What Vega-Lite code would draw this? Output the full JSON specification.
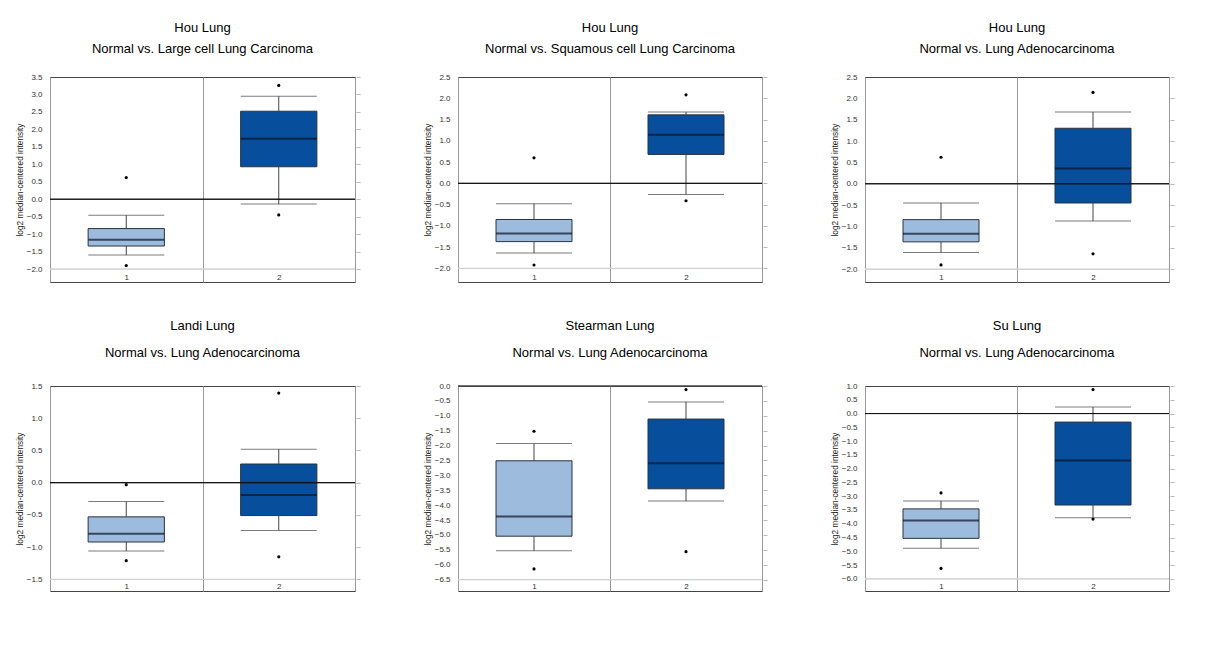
{
"$schema":"https://vega.github.io/schema/vega-lite/v6.json",
"padding":{"left":14,"top":21,"right":0,"bottom":0},
"config":{"font":"Liberation Sans","view":{"stroke":"#444"},
 "title":{"fontSize":13,"fontWeight":"normal","color":"#000","anchor":"middle","baseline":"bottom"},
 "axis":{"domain":false,"grid":false,"labelFontSize":8,"labelColor":"#333","titleFontWeight":"normal","titleFontSize":8.3,"titleColor":"#222","ticks":false}},
"datasets":{
 "b1":[{"g":"1","lo":-1.60,"q1":-1.34,"med":-1.16,"q3":-0.84,"hi":-0.46},{"g":"2","lo":-0.14,"q1":0.93,"med":1.73,"q3":2.52,"hi":2.95}],
 "o1":[{"g":"1","v":0.62},{"g":"1","v":-1.90},{"g":"2","v":3.26},{"g":"2","v":-0.45}],
 "b2":[{"g":"1","lo":-1.64,"q1":-1.37,"med":-1.18,"q3":-0.85,"hi":-0.48},{"g":"2","lo":-0.26,"q1":0.68,"med":1.14,"q3":1.61,"hi":1.68}],
 "o2":[{"g":"1","v":0.60},{"g":"1","v":-1.92},{"g":"2","v":2.08},{"g":"2","v":-0.41}],
 "b3":[{"g":"1","lo":-1.61,"q1":-1.36,"med":-1.17,"q3":-0.84,"hi":-0.45},{"g":"2","lo":-0.87,"q1":-0.45,"med":0.36,"q3":1.30,"hi":1.68}],
 "o3":[{"g":"1","v":0.62},{"g":"1","v":-1.90},{"g":"2","v":2.14},{"g":"2","v":-1.64}],
 "b4":[{"g":"1","lo":-1.06,"q1":-0.92,"med":-0.79,"q3":-0.53,"hi":-0.29},{"g":"2","lo":-0.74,"q1":-0.51,"med":-0.19,"q3":0.29,"hi":0.52}],
 "o4":[{"g":"1","v":-0.03},{"g":"1","v":-1.21},{"g":"2","v":1.39},{"g":"2","v":-1.15}],
 "b5":[{"g":"1","lo":-5.53,"q1":-5.04,"med":-4.38,"q3":-2.51,"hi":-1.93},{"g":"2","lo":-3.86,"q1":-3.45,"med":-2.59,"q3":-1.11,"hi":-0.54}],
 "o5":[{"g":"1","v":-1.52},{"g":"1","v":-6.14},{"g":"2","v":-0.12},{"g":"2","v":-5.56}],
 "b6":[{"g":"1","lo":-4.89,"q1":-4.53,"med":-3.88,"q3":-3.46,"hi":-3.17},{"g":"2","lo":-3.78,"q1":-3.32,"med":-1.70,"q3":-0.31,"hi":0.24}],
 "o6":[{"g":"1","v":-2.88},{"g":"1","v":-5.62},{"g":"2","v":0.87},{"g":"2","v":-3.83}]
},
"bounds":"flush","spacing":{"column":103,"row":104},"columns":3,
"concat":[
  {"width":305,"height":205,"title":{"text":["Hou Lung","Normal vs. Large cell Lung Carcinoma"],"lineHeight":21,"offset":17},
   "resolve":{"axis":{"y":"independent"}},
   "layer":[
    {"data":{"name":"b1"},"mark":{"type":"rule","color":"#d0d0d0"},"encoding":{"y":{"datum":-2,"type":"quantitative","axis":null}}},
    {"data":{"name":"b1"},"mark":{"type":"bar","stroke":"#2a3340","strokeWidth":1,"width":{"band":0.5}},"encoding":{
      "x":{"field":"g","type":"nominal","scale":{"domain":["1","2"],"paddingInner":0,"paddingOuter":0},"axis":{"title":null,"labelAngle":0,"labelPadding":-9,"tickSize":0,"grid":true,"tickBand":"extent","gridColor":"#999"}},
      "y":{"field":"q1","type":"quantitative","scale":{"domain":[-2.37,3.5],"nice":false,"zero":false},"axis":{"orient":"left","values":[-2,-1.5,-1,-0.5,0,0.5,1,1.5,2,2.5,3,3.5],"format":".1f","labelPadding":8,"title":"log2 median-centered intensity","titlePadding":2}},
      "y2":{"field":"q3"},
      "color":{"field":"g","type":"nominal","scale":{"domain":["1","2"],"range":["#9dbbdc","#074f9c"]},"legend":null}}},
    {"data":{"name":"b1"},"mark":{"type":"rule","color":"#444"},"encoding":{"x":{"field":"g","type":"nominal"},"y":{"field":"q3","type":"quantitative","axis":null},"y2":{"field":"hi"}}},
    {"data":{"name":"b1"},"mark":{"type":"rule","color":"#444"},"encoding":{"x":{"field":"g","type":"nominal"},"y":{"field":"lo","type":"quantitative","axis":null},"y2":{"field":"q1"}}},
    {"data":{"name":"b1"},"mark":{"type":"tick","color":"#444","size":76,"thickness":1},"encoding":{"x":{"field":"g","type":"nominal"},"y":{"field":"hi","type":"quantitative","axis":null}}},
    {"data":{"name":"b1"},"mark":{"type":"tick","color":"#444","size":76,"thickness":1},"encoding":{"x":{"field":"g","type":"nominal"},"y":{"field":"lo","type":"quantitative","axis":null}}},
    {"data":{"name":"b1"},"mark":{"type":"rule","color":"#111"},"encoding":{"y":{"datum":0,"type":"quantitative","axis":{"orient":"right","labels":false,"ticks":true,"tickColor":"#bbb","tickSize":4,"offset":1,"title":null,"values":[-2,-1.5,-1,-0.5,0,0.5,1,1.5,2,2.5,3,3.5]}}}},
    {"data":{"name":"b1"},"mark":{"type":"tick","color":"#0a1428","size":76,"thickness":2},"encoding":{"x":{"field":"g","type":"nominal"},"y":{"field":"med","type":"quantitative","axis":null}}},
    {"data":{"name":"o1"},"mark":{"type":"point","filled":true,"color":"#000","size":10,"opacity":1},"encoding":{"x":{"field":"g","type":"nominal"},"y":{"field":"v","type":"quantitative","axis":null}}}
   ]},
  {"width":304,"height":205,"title":{"text":["Hou Lung","Normal vs. Squamous cell Lung Carcinoma"],"lineHeight":21,"offset":17},
   "resolve":{"axis":{"y":"independent"}},
   "layer":[
    {"data":{"name":"b2"},"mark":{"type":"rule","color":"#d0d0d0"},"encoding":{"y":{"datum":-2,"type":"quantitative","axis":null}}},
    {"data":{"name":"b2"},"mark":{"type":"bar","stroke":"#2a3340","strokeWidth":1,"width":{"band":0.5}},"encoding":{
      "x":{"field":"g","type":"nominal","scale":{"domain":["1","2"],"paddingInner":0,"paddingOuter":0},"axis":{"title":null,"labelAngle":0,"labelPadding":-9,"tickSize":0,"grid":true,"tickBand":"extent","gridColor":"#999"}},
      "y":{"field":"q1","type":"quantitative","scale":{"domain":[-2.32,2.5],"nice":false,"zero":false},"axis":{"orient":"left","values":[-2,-1.5,-1,-0.5,0,0.5,1,1.5,2,2.5],"format":".1f","labelPadding":8,"title":"log2 median-centered intensity","titlePadding":2}},
      "y2":{"field":"q3"},
      "color":{"field":"g","type":"nominal","scale":{"domain":["1","2"],"range":["#9dbbdc","#074f9c"]},"legend":null}}},
    {"data":{"name":"b2"},"mark":{"type":"rule","color":"#444"},"encoding":{"x":{"field":"g","type":"nominal"},"y":{"field":"q3","type":"quantitative","axis":null},"y2":{"field":"hi"}}},
    {"data":{"name":"b2"},"mark":{"type":"rule","color":"#444"},"encoding":{"x":{"field":"g","type":"nominal"},"y":{"field":"lo","type":"quantitative","axis":null},"y2":{"field":"q1"}}},
    {"data":{"name":"b2"},"mark":{"type":"tick","color":"#444","size":76,"thickness":1},"encoding":{"x":{"field":"g","type":"nominal"},"y":{"field":"hi","type":"quantitative","axis":null}}},
    {"data":{"name":"b2"},"mark":{"type":"tick","color":"#444","size":76,"thickness":1},"encoding":{"x":{"field":"g","type":"nominal"},"y":{"field":"lo","type":"quantitative","axis":null}}},
    {"data":{"name":"b2"},"mark":{"type":"rule","color":"#111"},"encoding":{"y":{"datum":0,"type":"quantitative","axis":{"orient":"right","labels":false,"ticks":true,"tickColor":"#bbb","tickSize":4,"offset":1,"title":null,"values":[-2,-1.5,-1,-0.5,0,0.5,1,1.5,2,2.5]}}}},
    {"data":{"name":"b2"},"mark":{"type":"tick","color":"#0a1428","size":76,"thickness":2},"encoding":{"x":{"field":"g","type":"nominal"},"y":{"field":"med","type":"quantitative","axis":null}}},
    {"data":{"name":"o2"},"mark":{"type":"point","filled":true,"color":"#000","size":10,"opacity":1},"encoding":{"x":{"field":"g","type":"nominal"},"y":{"field":"v","type":"quantitative","axis":null}}}
   ]},
  {"width":304,"height":205,"title":{"text":["Hou Lung","Normal vs. Lung Adenocarcinoma"],"lineHeight":21,"offset":17},
   "resolve":{"axis":{"y":"independent"}},
   "layer":[
    {"data":{"name":"b3"},"mark":{"type":"rule","color":"#d0d0d0"},"encoding":{"y":{"datum":-2,"type":"quantitative","axis":null}}},
    {"data":{"name":"b3"},"mark":{"type":"bar","stroke":"#2a3340","strokeWidth":1,"width":{"band":0.5}},"encoding":{
      "x":{"field":"g","type":"nominal","scale":{"domain":["1","2"],"paddingInner":0,"paddingOuter":0},"axis":{"title":null,"labelAngle":0,"labelPadding":-9,"tickSize":0,"grid":true,"tickBand":"extent","gridColor":"#999"}},
      "y":{"field":"q1","type":"quantitative","scale":{"domain":[-2.3,2.5],"nice":false,"zero":false},"axis":{"orient":"left","values":[-2,-1.5,-1,-0.5,0,0.5,1,1.5,2,2.5],"format":".1f","labelPadding":8,"title":"log2 median-centered intensity","titlePadding":2}},
      "y2":{"field":"q3"},
      "color":{"field":"g","type":"nominal","scale":{"domain":["1","2"],"range":["#9dbbdc","#074f9c"]},"legend":null}}},
    {"data":{"name":"b3"},"mark":{"type":"rule","color":"#444"},"encoding":{"x":{"field":"g","type":"nominal"},"y":{"field":"q3","type":"quantitative","axis":null},"y2":{"field":"hi"}}},
    {"data":{"name":"b3"},"mark":{"type":"rule","color":"#444"},"encoding":{"x":{"field":"g","type":"nominal"},"y":{"field":"lo","type":"quantitative","axis":null},"y2":{"field":"q1"}}},
    {"data":{"name":"b3"},"mark":{"type":"tick","color":"#444","size":76,"thickness":1},"encoding":{"x":{"field":"g","type":"nominal"},"y":{"field":"hi","type":"quantitative","axis":null}}},
    {"data":{"name":"b3"},"mark":{"type":"tick","color":"#444","size":76,"thickness":1},"encoding":{"x":{"field":"g","type":"nominal"},"y":{"field":"lo","type":"quantitative","axis":null}}},
    {"data":{"name":"b3"},"mark":{"type":"rule","color":"#111"},"encoding":{"y":{"datum":0,"type":"quantitative","axis":{"orient":"right","labels":false,"ticks":true,"tickColor":"#bbb","tickSize":4,"offset":1,"title":null,"values":[-2,-1.5,-1,-0.5,0,0.5,1,1.5,2,2.5]}}}},
    {"data":{"name":"b3"},"mark":{"type":"tick","color":"#0a1428","size":76,"thickness":2},"encoding":{"x":{"field":"g","type":"nominal"},"y":{"field":"med","type":"quantitative","axis":null}}},
    {"data":{"name":"o3"},"mark":{"type":"point","filled":true,"color":"#000","size":10,"opacity":1},"encoding":{"x":{"field":"g","type":"nominal"},"y":{"field":"v","type":"quantitative","axis":null}}}
   ]},
  {"width":305,"height":205,"title":{"text":["Landi Lung","Normal vs. Lung Adenocarcinoma"],"lineHeight":27,"offset":22},
   "resolve":{"axis":{"y":"independent"}},
   "layer":[
    {"data":{"name":"b4"},"mark":{"type":"rule","color":"#d0d0d0"},"encoding":{"y":{"datum":-1.5,"type":"quantitative","axis":null}}},
    {"data":{"name":"b4"},"mark":{"type":"bar","stroke":"#2a3340","strokeWidth":1,"width":{"band":0.5}},"encoding":{
      "x":{"field":"g","type":"nominal","scale":{"domain":["1","2"],"paddingInner":0,"paddingOuter":0},"axis":{"title":null,"labelAngle":0,"labelPadding":-9,"tickSize":0,"grid":true,"tickBand":"extent","gridColor":"#999"}},
      "y":{"field":"q1","type":"quantitative","scale":{"domain":[-1.68,1.5],"nice":false,"zero":false},"axis":{"orient":"left","values":[-1.5,-1,-0.5,0,0.5,1,1.5],"format":".1f","labelPadding":8,"title":"log2 median-centered intensity","titlePadding":2}},
      "y2":{"field":"q3"},
      "color":{"field":"g","type":"nominal","scale":{"domain":["1","2"],"range":["#9dbbdc","#074f9c"]},"legend":null}}},
    {"data":{"name":"b4"},"mark":{"type":"rule","color":"#444"},"encoding":{"x":{"field":"g","type":"nominal"},"y":{"field":"q3","type":"quantitative","axis":null},"y2":{"field":"hi"}}},
    {"data":{"name":"b4"},"mark":{"type":"rule","color":"#444"},"encoding":{"x":{"field":"g","type":"nominal"},"y":{"field":"lo","type":"quantitative","axis":null},"y2":{"field":"q1"}}},
    {"data":{"name":"b4"},"mark":{"type":"tick","color":"#444","size":76,"thickness":1},"encoding":{"x":{"field":"g","type":"nominal"},"y":{"field":"hi","type":"quantitative","axis":null}}},
    {"data":{"name":"b4"},"mark":{"type":"tick","color":"#444","size":76,"thickness":1},"encoding":{"x":{"field":"g","type":"nominal"},"y":{"field":"lo","type":"quantitative","axis":null}}},
    {"data":{"name":"b4"},"mark":{"type":"rule","color":"#111"},"encoding":{"y":{"datum":0,"type":"quantitative","axis":{"orient":"right","labels":false,"ticks":true,"tickColor":"#bbb","tickSize":4,"offset":1,"title":null,"values":[-1.5,-1,-0.5,0,0.5,1,1.5]}}}},
    {"data":{"name":"b4"},"mark":{"type":"tick","color":"#0a1428","size":76,"thickness":2},"encoding":{"x":{"field":"g","type":"nominal"},"y":{"field":"med","type":"quantitative","axis":null}}},
    {"data":{"name":"o4"},"mark":{"type":"point","filled":true,"color":"#000","size":10,"opacity":1},"encoding":{"x":{"field":"g","type":"nominal"},"y":{"field":"v","type":"quantitative","axis":null}}}
   ]},
  {"width":304,"height":205,"title":{"text":["Stearman Lung","Normal vs. Lung Adenocarcinoma"],"lineHeight":27,"offset":22},
   "resolve":{"axis":{"y":"independent"}},
   "layer":[
    {"data":{"name":"b5"},"mark":{"type":"rule","color":"#d0d0d0"},"encoding":{"y":{"datum":-6.5,"type":"quantitative","axis":null}}},
    {"data":{"name":"b5"},"mark":{"type":"bar","stroke":"#2a3340","strokeWidth":1,"width":{"band":0.5}},"encoding":{
      "x":{"field":"g","type":"nominal","scale":{"domain":["1","2"],"paddingInner":0,"paddingOuter":0},"axis":{"title":null,"labelAngle":0,"labelPadding":-9,"tickSize":0,"grid":true,"tickBand":"extent","gridColor":"#999"}},
      "y":{"field":"q1","type":"quantitative","scale":{"domain":[-6.88,0],"nice":false,"zero":false},"axis":{"orient":"left","values":[-6.5,-6,-5.5,-5,-4.5,-4,-3.5,-3,-2.5,-2,-1.5,-1,-0.5,0],"format":".1f","labelPadding":8,"title":"log2 median-centered intensity","titlePadding":2}},
      "y2":{"field":"q3"},
      "color":{"field":"g","type":"nominal","scale":{"domain":["1","2"],"range":["#9dbbdc","#074f9c"]},"legend":null}}},
    {"data":{"name":"b5"},"mark":{"type":"rule","color":"#444"},"encoding":{"x":{"field":"g","type":"nominal"},"y":{"field":"q3","type":"quantitative","axis":null},"y2":{"field":"hi"}}},
    {"data":{"name":"b5"},"mark":{"type":"rule","color":"#444"},"encoding":{"x":{"field":"g","type":"nominal"},"y":{"field":"lo","type":"quantitative","axis":null},"y2":{"field":"q1"}}},
    {"data":{"name":"b5"},"mark":{"type":"tick","color":"#444","size":76,"thickness":1},"encoding":{"x":{"field":"g","type":"nominal"},"y":{"field":"hi","type":"quantitative","axis":null}}},
    {"data":{"name":"b5"},"mark":{"type":"tick","color":"#444","size":76,"thickness":1},"encoding":{"x":{"field":"g","type":"nominal"},"y":{"field":"lo","type":"quantitative","axis":null}}},
    {"data":{"name":"b5"},"mark":{"type":"rule","color":"#444"},"encoding":{"y":{"datum":0,"type":"quantitative","axis":{"orient":"right","labels":false,"ticks":true,"tickColor":"#bbb","tickSize":4,"offset":1,"title":null,"values":[-6.5,-6,-5.5,-5,-4.5,-4,-3.5,-3,-2.5,-2,-1.5,-1,-0.5,0]}}}},
    {"data":{"name":"b5"},"mark":{"type":"tick","color":"#0a1428","size":76,"thickness":2},"encoding":{"x":{"field":"g","type":"nominal"},"y":{"field":"med","type":"quantitative","axis":null}}},
    {"data":{"name":"o5"},"mark":{"type":"point","filled":true,"color":"#000","size":10,"opacity":1},"encoding":{"x":{"field":"g","type":"nominal"},"y":{"field":"v","type":"quantitative","axis":null}}}
   ]},
  {"width":304,"height":205,"title":{"text":["Su Lung","Normal vs. Lung Adenocarcinoma"],"lineHeight":27,"offset":22},
   "resolve":{"axis":{"y":"independent"}},
   "layer":[
    {"data":{"name":"b6"},"mark":{"type":"rule","color":"#d0d0d0"},"encoding":{"y":{"datum":-6,"type":"quantitative","axis":null}}},
    {"data":{"name":"b6"},"mark":{"type":"bar","stroke":"#2a3340","strokeWidth":1,"width":{"band":0.5}},"encoding":{
      "x":{"field":"g","type":"nominal","scale":{"domain":["1","2"],"paddingInner":0,"paddingOuter":0},"axis":{"title":null,"labelAngle":0,"labelPadding":-9,"tickSize":0,"grid":true,"tickBand":"extent","gridColor":"#999"}},
      "y":{"field":"q1","type":"quantitative","scale":{"domain":[-6.44,1],"nice":false,"zero":false},"axis":{"orient":"left","values":[-6,-5.5,-5,-4.5,-4,-3.5,-3,-2.5,-2,-1.5,-1,-0.5,0,0.5,1],"format":".1f","labelPadding":8,"title":"log2 median-centered intensity","titlePadding":2}},
      "y2":{"field":"q3"},
      "color":{"field":"g","type":"nominal","scale":{"domain":["1","2"],"range":["#9dbbdc","#074f9c"]},"legend":null}}},
    {"data":{"name":"b6"},"mark":{"type":"rule","color":"#444"},"encoding":{"x":{"field":"g","type":"nominal"},"y":{"field":"q3","type":"quantitative","axis":null},"y2":{"field":"hi"}}},
    {"data":{"name":"b6"},"mark":{"type":"rule","color":"#444"},"encoding":{"x":{"field":"g","type":"nominal"},"y":{"field":"lo","type":"quantitative","axis":null},"y2":{"field":"q1"}}},
    {"data":{"name":"b6"},"mark":{"type":"tick","color":"#444","size":76,"thickness":1},"encoding":{"x":{"field":"g","type":"nominal"},"y":{"field":"hi","type":"quantitative","axis":null}}},
    {"data":{"name":"b6"},"mark":{"type":"tick","color":"#444","size":76,"thickness":1},"encoding":{"x":{"field":"g","type":"nominal"},"y":{"field":"lo","type":"quantitative","axis":null}}},
    {"data":{"name":"b6"},"mark":{"type":"rule","color":"#111"},"encoding":{"y":{"datum":0,"type":"quantitative","axis":{"orient":"right","labels":false,"ticks":true,"tickColor":"#bbb","tickSize":4,"offset":1,"title":null,"values":[-6,-5.5,-5,-4.5,-4,-3.5,-3,-2.5,-2,-1.5,-1,-0.5,0,0.5,1]}}}},
    {"data":{"name":"b6"},"mark":{"type":"tick","color":"#0a1428","size":76,"thickness":2},"encoding":{"x":{"field":"g","type":"nominal"},"y":{"field":"med","type":"quantitative","axis":null}}},
    {"data":{"name":"o6"},"mark":{"type":"point","filled":true,"color":"#000","size":10,"opacity":1},"encoding":{"x":{"field":"g","type":"nominal"},"y":{"field":"v","type":"quantitative","axis":null}}}
   ]}
]
}
